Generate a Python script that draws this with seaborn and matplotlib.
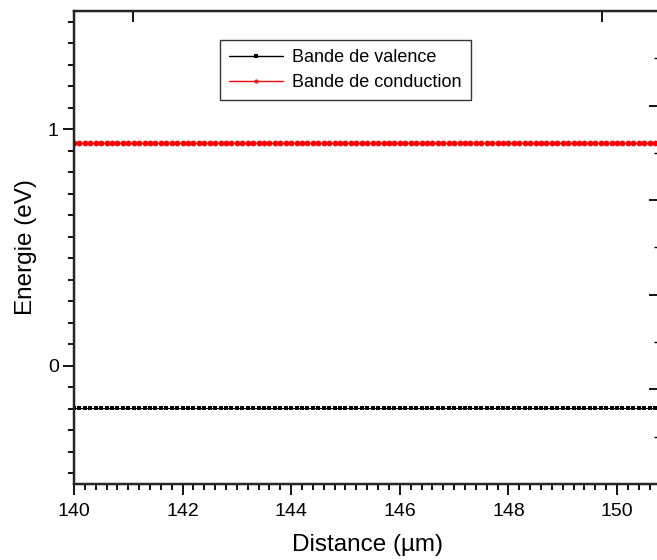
import numpy as np
import pandas as pd
import matplotlib
matplotlib.use("Agg")
import matplotlib.pyplot as plt
import seaborn as sns
from matplotlib.ticker import MultipleLocator

# ---- data ----
distance = np.arange(1400, 1511) / 10.0          # sampling grid (µm)
valence_level = -0.177                             # eV (constant)
conduction_level = 0.941                           # eV (constant)
series_names = ["Bande de valence", "Bande de conduction"]
series_colors = ["black", "red"]
xticks = [140, 142, 144, 146, 148, 150]
yticks = [0, 1]

valence = [valence_level] * len(distance)
conduction = [conduction_level] * len(distance)

df = pd.DataFrame({
    "Distance": np.concatenate([distance, distance]),
    "Energie": np.concatenate([valence, conduction]),
    "Bande": [series_names[0]] * len(distance) + [series_names[1]] * len(distance),
})

sns.set_style("ticks")
plt.rcParams["font.family"] = ["Liberation Sans", "DejaVu Sans"]
plt.rcParams["text.color"] = "black"
plt.rcParams["axes.labelcolor"] = "black"
plt.rcParams["xtick.color"] = "black"
plt.rcParams["ytick.color"] = "black"

fig = plt.figure(figsize=(6.57, 5.6), dpi=100)
ax = fig.add_axes([74 / 657, 76 / 560, 586 / 657, 473 / 560])

sns.lineplot(data=df, x="Distance", y="Energie", hue="Bande", style="Bande",
             palette=dict(zip(series_names, series_colors)),
             markers={series_names[0]: "s", series_names[1]: "o"},
             dashes=False, markersize=4.2, markeredgewidth=0, linewidth=0.8,
             ax=ax, legend=True)
# squares slightly smaller so they stay separated like the reference
for ln in ax.lines:
    if ln.get_marker() == "s":
        ln.set_markersize(3.3)

ax.set_xlim(140, 150 + 586 / 54.3 - 10)
ax.set_ylim(-0.5, 1.5)
ax.set_xticks(xticks)
ax.set_yticks(yticks)
ax.xaxis.set_minor_locator(MultipleLocator(0.2))
ax.yaxis.set_minor_locator(MultipleLocator(1 / 11))
ax.tick_params(axis="both", which="major", length=8, width=1.3, direction="out",
               labelsize=14, colors="black")
ax.tick_params(axis="x", which="major", pad=6)
ax.tick_params(axis="y", which="major", pad=3)
ax.tick_params(axis="both", which="minor", length=4, width=1.3, direction="out")
for s in ax.spines.values():
    s.set_linewidth(1.6)
    s.set_visible(True)
    s.set_color("black")

ax.set_xlabel("Distance (µm)", fontsize=17.5, labelpad=10, color="black")
ax.set_ylabel("Energie (eV)", fontsize=17.5, labelpad=8, color="black")

# right axis (different scale, ticks inward)
axr = ax.twinx()
axr.set_ylim(0, 5)
axr.yaxis.set_major_locator(MultipleLocator(1))
axr.yaxis.set_minor_locator(MultipleLocator(0.5))
axr.tick_params(axis="y", which="major", length=8, width=1.3, direction="in", labelright=False)
axr.tick_params(axis="y", which="minor", length=4, width=1.0, direction="in")
for s in axr.spines.values():
    s.set_linewidth(1.6)

# top axis
axt = ax.twiny()
axt.set_xlim(ax.get_xlim())
axt.set_xticks([141.09, 149.72])
axt.tick_params(axis="x", which="major", length=8, width=1.3, direction="in", labeltop=False)

h, l = ax.get_legend_handles_labels()
leg = ax.legend(h, l, loc="upper left", bbox_to_anchor=((220 - 74) / 586, (484 - 40) / 473),
                borderaxespad=0, frameon=True, fancybox=False, edgecolor="black",
                fontsize=13, handlelength=3.0, markerscale=0.7, borderpad=0.5,
                labelspacing=0.45, handletextpad=0.5)
leg.get_frame().set_linewidth(1.0)
for line in leg.get_lines():
    line.set_linewidth(1.0)
for t in leg.get_texts():
    t.set_color("black")

fig.savefig("out.png", dpi=100)
